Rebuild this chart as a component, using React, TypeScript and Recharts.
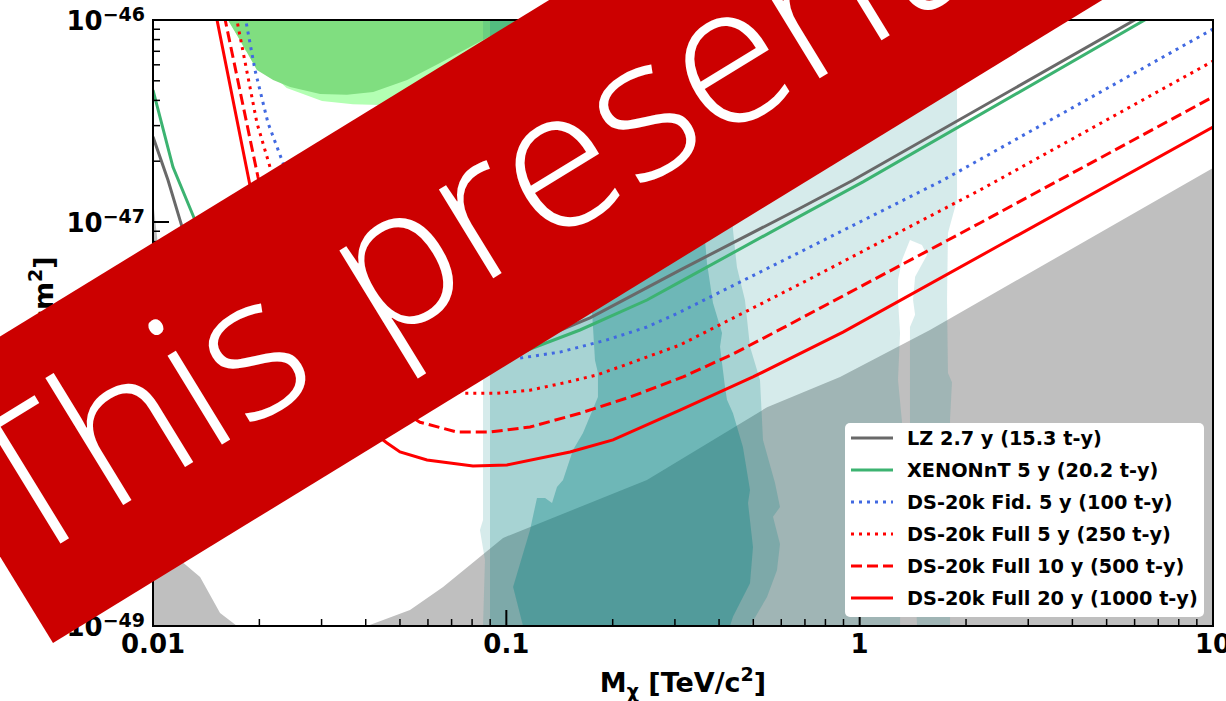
import React from 'react';
import { ComposedChart, Line, Scatter, XAxis, YAxis, Legend, ReferenceArea } from 'recharts';

type Pt = [number, number];

// x: WIMP mass [TeV/c^2], y: SI WIMP-nucleon cross-section [cm^2]
const xMajorTicks = [0.01, 0.1, 1, 10];
const xMajorLabels = ['0.01', '0.1', '1', '10'];
const xMinorTicks = [0.02, 0.03, 0.04, 0.05, 0.06, 0.07, 0.08, 0.09, 0.2, 0.3, 0.4, 0.5, 0.6, 0.7, 0.8, 0.9, 2, 3, 4, 5, 6, 7, 8, 9];
const yMajorTicks = [1e-49, 1e-48, 1e-47, 1e-46];
const yMajorLabels = ['−49', '−48', '−47', '−46'];
const yMinorTicks = [
  2e-49, 3e-49, 4e-49, 5e-49, 6e-49, 7e-49, 8e-49, 9e-49,
  2e-48, 3e-48, 4e-48, 5e-48, 6e-48, 7e-48, 8e-48, 9e-48,
  2e-47, 3e-47, 4e-47, 5e-47, 6e-47, 7e-47, 8e-47, 9e-47,
];

// filled regions
const neutrinoFog: Pt[] = [
  [0.01, 1e-49], [0.01, 1.285e-47], [0.01033, 7.69e-48], [0.01081, 2.32e-48], [0.01132, 6.63e-49],
  [0.01192, 2.12e-49], [0.01359, 1.75e-49], [0.01548, 1.16e-49], [0.01729, 1e-49], [0.04036, 1e-49],
  [0.05337, 1.2e-49], [0.06622, 1.56e-49], [0.0979, 2.73e-49], [0.25, 5.28e-49], [0.547, 1.21e-48],
  [0.88, 1.71e-48], [1.581, 2.92e-48], [10, 1.85e-47], [10, 1e-49],
];
const greenLight: Pt[] = [
  [0.0163, 1e-46], [0.01762, 7.96e-47], [0.0182, 7.1e-47], [0.0239, 4.6e-47], [0.0301, 3.97e-47],
  [0.0368, 3.83e-47], [0.044, 3.79e-47], [0.0649, 4.77e-47], [0.096, 7.1e-47], [0.142, 1e-46],
];
const greenBright: Pt[] = [
  [0.0163, 1e-46], [0.01762, 7.96e-47], [0.01968, 5.65e-47], [0.02188, 5.05e-47], [0.02444, 4.66e-47],
  [0.02971, 4.3e-47], [0.0354, 4.26e-47], [0.042, 4.4e-47], [0.0524, 5.05e-47], [0.0649, 6.12e-47],
  [0.0859, 7.96e-47], [0.1093, 1e-46],
];
const tealOuter: Pt[] = [
  [0.0859, 1e-46], [0.0859, 3.35e-49], [0.0842, 2.99e-49], [0.087, 2.12e-49], [0.0859, 1e-49],
  [1.301, 1e-49], [1.318, 1.02e-48], [1.284, 1.65e-48], [1.301, 2.82e-48], [1.284, 4.11e-48],
  [1.284, 5.17e-48], [1.318, 6.49e-48], [1.388, 8.15e-48], [1.501, 7.69e-48], [1.551, 6.87e-48],
  [1.435, 5.35e-48], [1.416, 4.11e-48], [1.435, 3.47e-48], [1.388, 3.02e-48], [1.388, 2.61e-48],
  [1.388, 1.65e-48], [1.388, 1.02e-48], [1.453, 1e-49], [1.802, 1e-49], [1.802, 1.05e-48],
  [1.825, 1.61e-48], [1.778, 1.79e-48], [1.767, 4.11e-48], [1.778, 8.83e-48], [1.886, 1.285e-47],
  [1.886, 1e-46],
];
const tealMid: Pt[] = [
  [0.0899, 1e-46], [0.0899, 1e-49], [0.4894, 1e-49], [0.5467, 1.39e-49], [0.5834, 1.89e-49],
  [0.595, 2.55e-49], [0.5685, 3.47e-49], [0.595, 3.88e-49], [0.576, 5.1e-49], [0.5326, 8.34e-49],
  [0.5223, 1.65e-48], [0.4894, 2.41e-48], [0.4735, 4.11e-48], [0.4493, 5.99e-48], [0.438, 9.12e-48],
  [0.4295, 2.27e-47], [0.424, 1e-46],
];
const tealCore: Pt[] = [
  [0.1725, 1e-46], [0.1703, 2.27e-47], [0.1692, 8.83e-48], [0.1759, 3.02e-48], [0.1782, 2.07e-48],
  [0.1817, 1.79e-48], [0.1817, 1.36e-48], [0.1648, 9.02e-49], [0.1544, 7.43e-49], [0.1447, 5.28e-49],
  [0.1391, 4.88e-49], [0.1347, 4.06e-49], [0.1287, 4.3e-49], [0.1221, 4.3e-49], [0.1167, 2.99e-49],
  [0.1045, 1.56e-49], [0.1115, 1e-49], [0.4295, 1e-49], [0.438, 1.11e-49], [0.4894, 1.63e-49],
  [0.499, 2.46e-49], [0.4831, 4.06e-49], [0.4894, 4.71e-49], [0.4673, 7.69e-49], [0.438, 1.13e-48],
  [0.4212, 1.32e-48], [0.4159, 1.52e-48], [0.4025, 2.41e-48], [0.4078, 2.82e-48], [0.3845, 3.97e-48],
  [0.3697, 6.27e-48], [0.365, 8.15e-48], [0.3697, 9.12e-48], [0.3532, 2.27e-47], [0.3532, 1e-46],
];

// sensitivity curves
const lzLimit: Pt[] = [
  [0.01, 2.64e-47], [0.01103, 1.61e-47], [0.01216, 9.12e-48], [0.01359, 5.65e-48], [0.01651, 3.35e-48],
  [0.02144, 2.46e-48], [0.0317, 2.12e-48], [0.05002, 2.03e-48], [0.07888, 2.27e-48], [0.1167, 2.52e-48],
  [0.1725, 3.35e-48], [0.3101, 5.78e-48], [0.6779, 1.17e-47], [0.9574, 1.61e-47], [5.937, 9.89e-47],
  [10, 1.61e-46],
];
const xenonLimit: Pt[] = [
  [0.01, 4.5e-47], [0.01139, 1.87e-47], [0.01315, 1.02e-47], [0.01498, 6.34e-48], [0.01821, 3.88e-48],
  [0.02442, 2.76e-48], [0.0361, 2.27e-48], [0.05699, 2.12e-48], [0.0842, 2.2e-48], [0.1144, 2.32e-48],
  [0.1616, 2.92e-48], [0.2501, 4.11e-48], [0.3101, 5.05e-48], [0.6779, 1.07e-47], [1.022, 1.58e-47],
  [6.337, 9.89e-47], [10, 1.56e-46],
];
const dsFid5: Pt[] = [
  [0.01786, 1.256e-46], [0.01944, 5.65e-47], [0.02116, 3.09e-47], [0.02333, 1.96e-47], [0.02606, 1.15e-47],
  [0.0317, 5.78e-48], [0.04113, 3.47e-48], [0.05699, 2.61e-48], [0.07888, 2.2e-48], [0.1093, 2.12e-48],
  [0.1419, 2.27e-48], [0.1928, 2.61e-48], [0.2501, 3.02e-48], [0.3101, 3.58e-48], [0.6779, 7.1e-48],
  [1.721, 1.61e-47], [10, 9.02e-47],
];
const dsFull5: Pt[] = [
  [0.01684, 1.256e-46], [0.01969, 3.09e-47], [0.02144, 1.87e-47], [0.02363, 1.08e-47], [0.02781, 5.47e-48],
  [0.0361, 2.92e-48], [0.05002, 1.85e-48], [0.07541, 1.42e-48], [0.0941, 1.42e-48], [0.1167, 1.47e-48],
  [0.1484, 1.61e-48], [0.1805, 1.75e-48], [0.2239, 2.0e-48], [0.3101, 2.46e-48], [0.6779, 4.93e-48],
  [2.191, 1.44e-47], [10, 6.26e-47],
];
const dsFull10: Pt[] = [
  [0.01558, 1.256e-46], [0.01982, 1.67e-47], [0.02144, 9.66e-48], [0.02442, 4.88e-48], [0.0297, 2.61e-48],
  [0.03855, 1.56e-48], [0.05699, 1.02e-48], [0.07252, 9.12e-49], [0.0899, 9.12e-49], [0.1167, 9.66e-49],
  [0.1616, 1.13e-48], [0.2239, 1.36e-48], [0.3163, 1.71e-48], [0.438, 2.22e-48], [0.6067, 2.99e-48],
  [2.191, 9.89e-48], [10, 4.16e-47],
];
const dsFull20: Pt[] = [
  [0.01479, 1.256e-46], [0.01881, 1.52e-47], [0.02009, 9.12e-48], [0.02288, 4.11e-48], [0.02781, 2.07e-48],
  [0.0361, 1.11e-48], [0.04595, 8.06e-49], [0.05002, 7.27e-49], [0.05963, 6.63e-49], [0.08045, 6.19e-49],
  [0.1004, 6.27e-49], [0.1514, 7.27e-49], [0.2004, 8.34e-49], [0.3101, 1.17e-48], [0.499, 1.71e-48],
  [0.8972, 2.85e-48], [2.496, 7.69e-48], [10, 2.95e-47],
];

const seriesNames = [
  'LZ 2.7 y (15.3 t-y)',
  'XENONnT 5 y (20.2 t-y)',
  'DS-20k Fid. 5 y (100 t-y)',
  'DS-20k Full 5 y (250 t-y)',
  'DS-20k Full 10 y (500 t-y)',
  'DS-20k Full 20 y (1000 t-y)',
];
const seriesCurves = [lzLimit, xenonLimit, dsFid5, dsFull5, dsFull10, dsFull20];

const LINE_STYLES: { stroke: string; dash?: string }[] = [
  { stroke: '#696969' },
  { stroke: '#3cb371' },
  { stroke: '#4169e1', dash: '3 5' },
  { stroke: '#ff0000', dash: '3 5' },
  { stroke: '#ff0000', dash: '11 5' },
  { stroke: '#ff0000' },
];

const FONT = "'DejaVu Sans', sans-serif";
const W = 1226;
const H = 701;

const toRows = (pts: Pt[]) => pts.map(([x, y]) => ({ x, y }));
const isDecade = (v: number) => Math.abs(Math.log10(v) - Math.round(Math.log10(v))) < 1e-6;
const sameVal = (a: number, b: number) => Math.abs(a - b) <= Math.abs(b) * 1e-6;

const noMarker = () => <g />;

// closed polygon through the chart scales (scatter points joined and filled)
const region = (key: string, pts: Pt[], fill: string, opacity: number) => (
  <Scatter
    key={key}
    data={toRows(pts)}
    shape={noMarker}
    lineType="joint"
    legendType="none"
    isAnimationActive={false}
    zIndex={100}
    line={(p: any) => (
      <polygon
        points={p.points.map((q: any) => `${q.x},${q.y}`).join(' ')}
        fill={fill}
        fillOpacity={opacity}
        stroke="none"
      />
    )}
  />
);

function XTick({ x, y, payload }: any) {
  const v = payload.value;
  const major = isDecade(v);
  const idx = xMajorTicks.findIndex((t) => sameVal(v, t));
  return (
    <g>
      <line x1={x} y1={y} x2={x} y2={y - (major ? 16 : 7)} stroke="#000" strokeWidth={major ? 2 : 1.5} />
      {major && idx >= 0 && (
        <text x={x} y={y + 27} textAnchor="middle" fontFamily={FONT} fontWeight="bold" fontSize={26} fill="#000">
          {xMajorLabels[idx]}
        </text>
      )}
    </g>
  );
}

function YTick({ x, y, payload }: any) {
  const v = payload.value;
  const major = isDecade(v);
  const idx = yMajorTicks.findIndex((t) => sameVal(v, t));
  return (
    <g>
      <line x1={x} y1={y} x2={x + (major ? 16 : 7)} y2={y} stroke="#000" strokeWidth={major ? 2 : 1.5} />
      {major && idx >= 0 && (
        <text x={x - 8} y={y + 10} textAnchor="end" fontFamily={FONT} fontWeight="bold" fontSize={26} fill="#000">
          10<tspan dy={-9} fontSize={19}>{yMajorLabels[idx]}</tspan>
        </text>
      )}
    </g>
  );
}

const xTitle = (props: any) => {
  const vb = props.viewBox;
  return (
    <text x={vb.x + vb.width / 2} y={vb.y + 66} textAnchor="middle" fontFamily={FONT} fontWeight="bold" fontSize={27} fill="#000">
      M<tspan dy={6} fontSize={19}>χ</tspan>
      <tspan dy={-6}> [TeV/c</tspan>
      <tspan dy={-11} fontSize={19}>2</tspan>
      <tspan dy={11}>]</tspan>
    </text>
  );
};

const yTitle = (props: any) => {
  const vb = props.viewBox;
  const cy = vb.y + vb.height / 2;
  return (
    <text transform={`translate(53 ${cy}) rotate(-90)`} textAnchor="middle" fontFamily={FONT} fontWeight="bold" fontSize={27} fill="#000">
      σ<tspan dy={6} fontSize={19}>SI</tspan>
      <tspan dy={-6}> [cm</tspan>
      <tspan dy={-11} fontSize={19}>2</tspan>
      <tspan dy={11}>]</tspan>
    </text>
  );
};

function LegendBox() {
  return (
    <div style={{ position: 'relative', width: 359, height: 194, background: '#fff', borderRadius: 5 }}>
      {seriesNames.map((name, i) => {
        const st = LINE_STYLES[i];
        return (
          <div key={name} style={{ position: 'absolute', left: 0, top: i * 32, height: 30, display: 'flex', alignItems: 'center' }}>
            <svg width={62} height={30} style={{ display: 'block' }}>
              <line x1={6} x2={48} y1={15} y2={15} stroke={st.stroke} strokeWidth={3} strokeDasharray={st.dash} />
            </svg>
            <span style={{ fontFamily: FONT, fontWeight: 'bold', fontSize: 19.3, color: '#000', whiteSpace: 'nowrap' }}>{name}</span>
          </div>
        );
      })}
    </div>
  );
}

export default function App() {
  return (
    <div style={{ position: 'absolute', left: 0, top: 0, width: W, height: H, overflow: 'hidden', background: '#fff' }}>
      <ComposedChart width={W} height={H} margin={{ top: 20, right: 13, bottom: 0, left: 0 }}>
        {region('gl', greenLight, '#b3ffb3', 1)}
        {region('gb', greenBright, '#80de80', 1)}
        {region('fog', neutrinoFog, '#bfbfbf', 1)}
        {region('t1', tealOuter, '#008080', 0.16)}
        {region('t2', tealMid, '#008080', 0.22)}
        {region('t3', tealCore, '#008080', 0.34)}

        {seriesCurves.map((c, i) => (
          <Line
            key={seriesNames[i]}
            name={seriesNames[i]}
            data={toRows(c)}
            dataKey="y"
            type="linear"
            stroke={LINE_STYLES[i].stroke}
            strokeWidth={3}
            strokeDasharray={LINE_STYLES[i].dash}
            dot={false}
            activeDot={false}
            isAnimationActive={false}
            zIndex={400}
          />
        ))}

        <ReferenceArea x1={0.01} x2={10} y1={1e-49} y2={1e-46} fill="none" stroke="#000" strokeWidth={2} ifOverflow="visible" zIndex={450} />

        <XAxis
          dataKey="x"
          type="number"
          scale="log"
          domain={[0.01, 10]}
          allowDataOverflow
          ticks={[...xMajorTicks, ...xMinorTicks]}
          interval={0}
          tick={(p: any) => <XTick {...p} />}
          tickLine={false}
          tickSize={0}
          tickMargin={0}
          axisLine={false}
          height={75}
          label={xTitle}
        />
        <YAxis
          dataKey="y"
          type="number"
          scale="log"
          domain={[1e-49, 1e-46]}
          allowDataOverflow
          ticks={[...yMajorTicks, ...yMinorTicks]}
          interval={0}
          tick={(p: any) => <YTick {...p} />}
          tickLine={false}
          tickSize={0}
          tickMargin={0}
          axisLine={false}
          width={153}
          label={yTitle}
        />
        <Legend
          layout="horizontal"
          align="center"
          verticalAlign="middle"
          wrapperStyle={{ left: 845, top: 423, width: 359 }}
          content={() => <LegendBox />}
        />
      </ComposedChart>

      <svg width={W} height={H} style={{ position: 'absolute', left: 0, top: 0, pointerEvents: 'none' }}>
        <g transform="translate(53 643) rotate(-31.5)">
          <rect x={0} y={-289} width={1900} height={289} fill="#cc0000" />
          <text x={12} y={-81} fill="#fff" fontSize={196} wordSpacing={15} fontFamily="'Open Sans', 'Lato', sans-serif" fontWeight={300}>
            This presentation
          </text>
        </g>
      </svg>
    </div>
  );
}
